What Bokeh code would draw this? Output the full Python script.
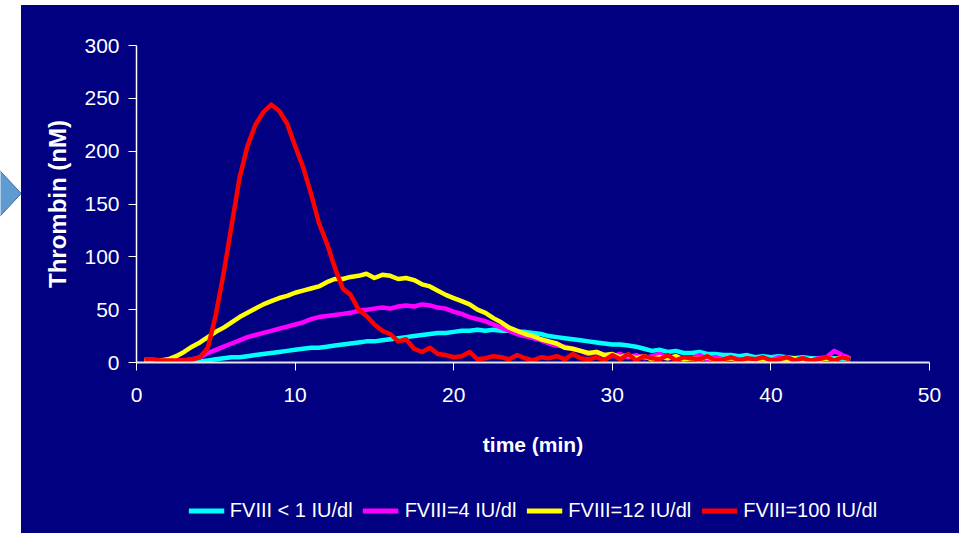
from bokeh.plotting import figure
from bokeh.models import Range1d, Legend, LegendItem, FixedTicker
from bokeh.layouts import row, column
from bokeh.embed import file_html
from bokeh.resources import INLINE

# ---------------- data ----------------
time_min = [0.5, 1.0, 1.5, 2.0, 2.5, 3.0, 3.5, 4.0, 4.5, 5.0,
            5.5, 6.0, 6.5, 7.0, 7.5, 8.0, 8.5, 9.0, 9.5, 10.0,
            10.5, 11.0, 11.5, 12.0, 12.5, 13.0, 13.5, 14.0, 14.5, 15.0,
            15.5, 16.0, 16.5, 17.0, 17.5, 18.0, 18.5, 19.0, 19.5, 20.0,
            20.5, 21.0, 21.5, 22.0, 22.5, 23.0, 23.5, 24.0, 24.5, 25.0,
            25.5, 26.0, 26.5, 27.0, 27.5, 28.0, 28.5, 29.0, 29.5, 30.0,
            30.5, 31.0, 31.5, 32.0, 32.5, 33.0, 33.5, 34.0, 34.5, 35.0,
            35.5, 36.0, 36.5, 37.0, 37.5, 38.0, 38.5, 39.0, 39.5, 40.0,
            40.5, 41.0, 41.5, 42.0, 42.5, 43.0, 43.5, 44.0, 44.5, 45.0]

fviii_lt1 = [1, 1, 1, 1, 1, 1, 1, 1, 2, 3,
             4, 5, 5, 6, 7, 8, 9, 10, 11, 12,
             13, 14, 14, 15, 16, 17, 18, 19, 20, 20,
             21, 22, 23, 24, 25, 26, 27, 28, 28, 29,
             30, 30, 31, 30, 31, 30, 30, 29, 29, 28,
             27, 25, 24, 23, 22, 21, 20, 19, 18, 17,
             17, 16, 15, 13, 11, 12, 10, 11, 9, 9,
             10, 8, 8, 7, 7, 6, 7, 5, 6, 5,
             6, 5, 4, 5, 4, 4, 3, 4, 3, 3]

fviii_4 = [2, 2, 2, 2, 2, 2, 3, 5, 9, 12,
           15, 18, 21, 24, 26, 28, 30, 32, 34, 36,
           38, 41, 43, 44, 45, 46, 47, 49, 50, 51,
           52, 51, 53, 54, 53, 55, 54, 52, 51, 48,
           46, 43, 41, 39, 36, 33, 30, 27, 25, 23,
           21, 18, 16, 15, 13, 11, 8, 10, 7, 6,
           8, 5, 7, 4, 6, 8, 4, 5, 3, 4,
           7, 3, 5, 3, 4, 3, 2, 3, 4, 2,
           5, 3, 2, 3, 2, 4, 5, 11, 7, 4]

fviii_12 = [2, 2, 2, 3, 6, 10, 15, 19, 24, 29,
            33, 38, 43, 47, 51, 55, 58, 61, 63, 66,
            68, 70, 72, 76, 79, 79, 81, 82, 84, 80,
            83, 82, 79, 80, 78, 74, 72, 68, 64, 61,
            58, 55, 50, 47, 42, 38, 33, 30, 27, 25,
            22, 20, 18, 14, 13, 11, 9, 10, 7, 8,
            5, 7, 4, 6, 3, 5, 4, 6, 3, 4,
            3, 5, 2, 3, 4, 2, 3, 2, 3, 2,
            3, 2, 4, 2, 3, 2, 4, 3, 5, 3]

fviii_100 = [3, 3, 2, 2, 2, 2, 3, 5, 14, 45,
             85, 130, 175, 205, 225, 237, 244, 238, 226, 205,
             185, 160, 132, 113, 90, 70, 64, 50, 44, 36,
             30, 27, 20, 22, 13, 10, 14, 8, 7, 5,
             6, 10, 3, 4, 6, 5, 3, 7, 4, 2,
             5, 4, 6, 3, 8, 4, 3, 5, 2, 7,
             3, 8, 2, 6, 4, 3, 7, 2, 5, 4,
             3, 6, 2, 3, 5, 2, 4, 3, 5, 2,
             3, 5, 2, 4, 2, 3, 5, 2, 5, 3]

series_labels = ["FVIII < 1 IU/dl", "FVIII=4 IU/dl", "FVIII=12 IU/dl", "FVIII=100 IU/dl"]
series_values = [fviii_lt1, fviii_4, fviii_12, fviii_100]
series_colors = ["#00FFFF", "#FF00FF", "#FFFF00", "#FF0000"]

x_ticks = [0, 10, 20, 30, 40, 50]
y_ticks = [0, 50, 100, 150, 200, 250, 300]

# decorative arrow tip at the left page edge (page pixel coords)
arrow_x = [-12, 20.7, -12]
arrow_y = [158, 193, 228]

NAVY = "#000080"
FONT = "Liberation Sans"

# ---------------- arrow strip ----------------
a = figure(frame_width=21, frame_height=533, output_backend="svg", toolbar_location=None,
           x_range=Range1d(0, 21), y_range=Range1d(533, 0), title=None,
           x_axis_type=None, y_axis_type=None,
           min_border=0, min_border_left=0, min_border_right=0,
           min_border_top=0, min_border_bottom=0, align="start")
a.outline_line_color = None
a.background_fill_color = "white"
a.border_fill_color = "white"
a.xgrid.visible = False
a.ygrid.visible = False
a.patch(arrow_x, arrow_y, fill_color="#5F9AD2", line_color="#3D6E9E", line_width=1)

# ---------------- main chart ----------------
p = figure(frame_width=793, frame_height=317, output_backend="svg", toolbar_location=None,
           x_range=Range1d(0, 50), y_range=Range1d(0, 300), title=None,
           min_border_left=115, min_border_right=30,
           min_border_top=40, min_border_bottom=106,
           align="start")
p.background_fill_color = NAVY
p.border_fill_color = NAVY
p.outline_line_color = NAVY
p.outline_line_width = 3
p.xgrid.visible = False
p.ygrid.visible = False

renderers = []
for vals, col in zip(series_values, series_colors):
    r = p.line(time_min, vals, line_color=col, line_width=4.5, line_join="round")
    renderers.append(r)

for ax in (p.xaxis[0], p.yaxis[0]):
    ax.major_label_text_color = "white"
    ax.major_label_text_font = FONT
    ax.major_label_text_font_size = "21px"
    ax.major_tick_line_color = "white"
    ax.major_tick_out = 8
    ax.major_tick_in = 0
    ax.minor_tick_line_color = None
    ax.axis_label_text_color = "white"
    ax.axis_label_text_font = FONT
    ax.axis_label_text_font_style = "bold"

p.xaxis[0].ticker = FixedTicker(ticks=x_ticks)
p.yaxis[0].ticker = FixedTicker(ticks=y_ticks)
p.xaxis[0].axis_line_color = "#E6E6E6"
p.xaxis[0].axis_line_width = 2
p.yaxis[0].axis_line_color = "white"
p.yaxis[0].axis_line_width = 1.5
p.xaxis[0].major_label_standoff = 17
p.yaxis[0].major_label_standoff = 9

p.xaxis[0].axis_label = "time (min)"
p.xaxis[0].axis_label_text_font_size = "21px"
p.xaxis[0].axis_label_standoff = 28
p.yaxis[0].axis_label = "Thrombin (nM)"
p.yaxis[0].axis_label_text_font_size = "24px"
p.yaxis[0].axis_label_standoff = 10

# ---------------- legend strip (below the chart) ----------------
lg = figure(frame_width=793, frame_height=46, output_backend="svg", toolbar_location=None,
            x_range=Range1d(0, 1), y_range=Range1d(0, 1), title=None,
            x_axis_type=None, y_axis_type=None,
            min_border_left=115, min_border_right=30,
            min_border_top=19, min_border_bottom=10, align="start")
lg.background_fill_color = NAVY
lg.border_fill_color = NAVY
lg.outline_line_color = NAVY
lg.outline_line_width = 3
lg.xgrid.visible = False
lg.ygrid.visible = False

# swatch renderers for the legend keys (their data lie outside the strip's range)
swatches = []
for col in series_colors:
    swatches.append(lg.line([-5, -4], [-5, -5], line_color=col, line_width=5))

legend = Legend(
    items=[LegendItem(label=lab, renderers=[r]) for lab, r in zip(series_labels, swatches)],
    orientation="horizontal",
    location="center",
    label_text_color="white",
    label_text_font=FONT,
    label_text_font_size="20px",
    glyph_width=36,
    label_standoff=6,
    spacing=10,
    padding=10,
    margin=0,
    background_fill_alpha=0,
    border_line_alpha=0,
)
lg.add_layout(legend, "center")

chart_col = column(p, lg, spacing=0, margin=(5, 0, 0, 0),
                   styles={"background-color": NAVY})
layout = row(a, chart_col, spacing=0)

open("out.html", "w").write(file_html(layout, INLINE))
